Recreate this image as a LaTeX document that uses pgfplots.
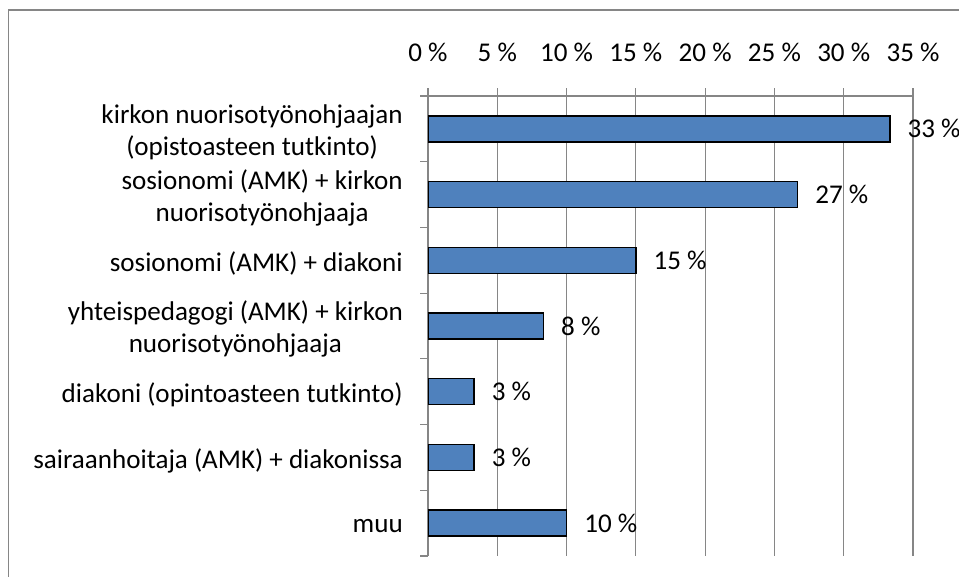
\documentclass[border=0pt]{standalone}
\usepackage{pgfplots}
\pgfplotsset{compat=1.18}
\usepackage{pgfplotstable}
\usepackage{fontspec}
\setmainfont{Carlito}
\definecolor{barblue}{HTML}{4F81BD}
\definecolor{gridgray}{HTML}{868686}
\pgfplotstableread[col sep=comma]{
pos,val,lab
6,33.33,33 \%
5,26.67,27 \%
4,15.0,15 \%
3,8.33,8 \%
2,3.33,3 \%
1,3.33,3 \%
0,10.0,10 \%
}\datatable
\begin{document}
\fontsize{20.3}{24}\selectfont
\begin{tikzpicture}
\useasboundingbox (0,0) rectangle (719.25pt,432.75pt);
\draw[gridgray, line width=1pt] (6.4pt,-2pt) -- (6.4pt,425.25pt) -- (722pt,425.25pt);
\begin{axis}[
  at={(321pt,15.75pt)}, anchor=south west,
  scale only axis, width=363.75pt, height=345pt,
  xbar, bar width=19.5pt,
  xmin=0, xmax=35, ymin=-0.5, ymax=6.5,
  axis x line*=top, axis y line*=left,
  axis line style={draw=gridgray, line width=0.8pt},
  tick align=outside,
  major tick length=6pt, minor tick length=6pt,
  tick style={gridgray, line width=0.8pt},
  xtick={0,5,...,35},
  xticklabel={\pgfmathprintnumber{\tick}~\%},
  /pgf/number format/assume math mode=true,
  xticklabel style={anchor=base, inner sep=0pt, yshift=20pt},
  xmajorgrids,
  grid style={gridgray, line width=0.8pt},
  ytick={0,...,6},
  yticklabels={muu, sairaanhoitaja (AMK) + diakonissa, diakoni (opintoasteen tutkinto), {yhteispedagogi (AMK) + kirkon\\nuorisotyönohjaaja}, sosionomi (AMK) + diakoni, {sosionomi (AMK) + kirkon\\nuorisotyönohjaaja}, {kirkon nuorisotyönohjaajan\\(opistoasteen tutkinto)}},
  yticklabel style={align=center, anchor=east, inner sep=0pt, xshift=-12.75pt, yshift=-2.5pt},
  major y tick style={draw=none},
  minor ytick={-0.5,0.5,...,6.5},
  minor y tick style={gridgray, line width=0.8pt},
  ticklabel style={font=\fontsize{20.3}{24}\selectfont},
  point meta=explicit symbolic,
  nodes near coords,
  nodes near coords style={anchor=west, inner sep=0pt, xshift=12.75pt, font=\fontsize{20.3}{24}\selectfont, text=black},
]
\addplot[fill=barblue, draw=black, line width=1.1pt] table[x=val, y=pos, meta=lab] {\datatable};
\end{axis}
\end{tikzpicture}
\end{document}
